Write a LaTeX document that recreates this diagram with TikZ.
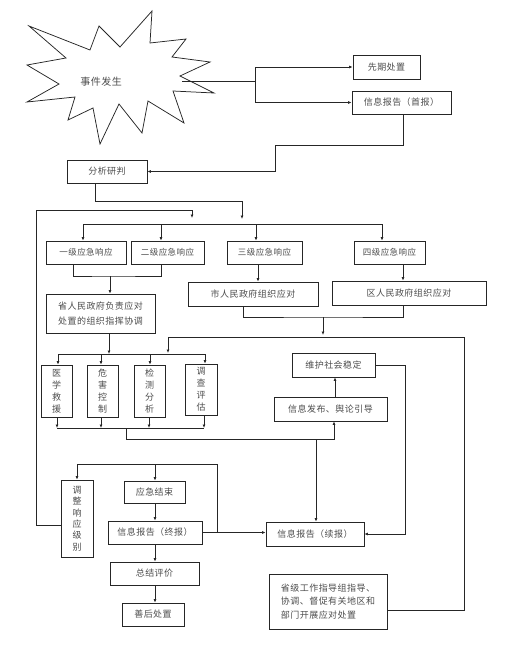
\documentclass[tikz,border=0pt]{standalone}
\usepackage{fontspec}
\newfontfamily\cjk[LetterSpace=5]{Noto Sans CJK SC}
\usetikzlibrary{positioning,arrows.meta}

\begin{document}
\begin{tikzpicture}[x=1pt,y=-1pt,
box/.style={draw=black!85,rectangle,inner sep=0pt,line width=0.8pt,text=black!70,
  font=\cjk\fontsize{9}{12}\selectfont,align=center},
lvbox/.style={box,minimum height=23,font=\cjk\fontsize{8.5}{12}\selectfont},
vbox/.style={box,minimum width=31,minimum height=52},
conn/.style={draw=black!85,line width=0.75pt},
arr/.style={-{Latex[length=3.5pt,width=3pt]}}]
\useasboundingbox (0,0) rectangle (514,652);

% event star
\draw[conn] (29,26) -- (90,50) -- (99,26) -- (120,47) -- (152,11) -- (150,43)
  -- (186,39) -- (172,57) -- (210,62) -- (180,76) -- (214,93) -- (173,91)
  -- (184,123) -- (148,101) -- (142,133) -- (119,104) -- (100,144) -- (93,108)
  -- (68,120) -- (75,97) -- (27,102) -- (59,84) -- (27,65) -- (66,58) -- cycle;
\node (star) [text=black!70,font=\cjk\fontsize{10}{12}\selectfont] at (101,82) {事件发生};

% boxes
\node (xqcz) [box,minimum width=67,minimum height=24] at (386.5,67) {先期处置};
\node (sb) [box,minimum width=99,minimum height=23] at (401.5,102.5) {信息报告（首报）};
\node (fxyp) [box,minimum width=80,minimum height=23] at (107,171.5) {分析研判};
\node (lv1) [lvbox,minimum width=80] at (86,252.5) {一级应急响应};
\node (lv2) [lvbox,minimum width=73] at (167.5,252.5) {二级应急响应};
\node (lv3) [lvbox,minimum width=75] at (264.5,252.5) {三级应急响应};
\node (lv4) [lvbox,minimum width=71] at (389.5,252.5) {四级应急响应};
\node (sheng) [box,minimum width=109,minimum height=39,
    font=\cjk\fontsize{9}{15}\selectfont] at (100.5,313.5) {省人民政府负责应对\\处置的组织指挥协调};
\node (shi) [box,minimum width=130,minimum height=24] at (253,294) {市人民政府组织应对};
\node (qu) [box,minimum width=154,minimum height=24] at (409,293) {区人民政府组织应对};
\node (yxjy) [vbox] at (56.5,391) {医\\学\\救\\援};
\node (whkz) [vbox] at (102.5,391) {危\\害\\控\\制};
\node (jcfx) [vbox] at (149.5,391) {检\\测\\分\\析};
\node (dcpg) [vbox,minimum width=32,minimum height=51] at (201,389.5) {调\\查\\评\\估};
\node (whwd) [box,minimum width=83,minimum height=24] at (333.5,365) {维护社会稳定};
\node (xxfb) [box,minimum width=113,minimum height=24] at (330.5,409) {信息发布、舆论引导};
\node (tzjb) [vbox,minimum width=32,minimum height=77,
    font=\cjk\fontsize{9}{11.3}\selectfont] at (77,518.5) {调\\整\\响\\应\\级\\别};
\node (yjjs) [box,minimum width=61,minimum height=22] at (154.5,492) {应急结束};
\node (zb) [box,minimum width=94,minimum height=23] at (155,532.5) {信息报告（终报）};
\node (xb) [box,minimum width=98,minimum height=24] at (315,534) {信息报告（续报）};
\node (zjpj) [box,minimum width=89,minimum height=23] at (154.5,573.5) {总结评价};
\node (shcz) [box,minimum width=62,minimum height=23] at (153,614.5) {善后处置};
\node (sjgz) [box,minimum width=118,minimum height=55,align=left,
    font=\cjk\fontsize{9}{13.5}\selectfont] at (328,601.5)
    {省级工作指导组指导、\\协调、督促有关地区和\\部门开展应对处置};

% star to first actions
\coordinate (s0) at (182,81);
\coordinate (s1) at (255,81);
\draw[conn] (s0) -- (s1);
\draw[conn,arr] (s1) |- (xqcz.west);
\draw[conn,arr] (s1) |- (sb.west);

% first report to analysis
\coordinate (b1) at (275,145);
\draw[conn,arr] ([xshift=1.5pt]sb.south) |- (b1) |- (fxyp.east);

% analysis to response levels
\coordinate (b2) at (242,201);
\coordinate (b3) at (242,219);
\draw[conn,arr] ([xshift=-12pt]fxyp.south) |- (b2) -- (b3);
\coordinate (c1) at (83,224);
\coordinate (c2) at (382,224);
\draw[conn] (c1) -- (c2);
\foreach \x/\n in {83/lv1,161/lv2,256/lv3,382/lv4}
  \draw[conn,arr] (\x,0 |- c1) -- (\x,0 |- \n.north);

% levels to organisers
\coordinate (d1) at (110,276);
\draw[conn] (73,0 |- lv1.south) |- (d1) -| (161,0 |- lv2.south);
\draw[conn,arr] (d1) -- (d1 |- sheng.north);
\draw[conn,arr] (258,0 |- lv3.south) -- (258,0 |- shi.north);
\draw[conn,arr] (403,0 |- lv4.south) -- (403,0 |- qu.north);
\coordinate (e1) at (323,317);
\coordinate (e2) at (323,335);
\draw[conn] (243,0 |- shi.south) |- (e1) -| (403,0 |- qu.south);
\draw[conn,arr] (e1) -- (e2);

% to the tasks and the provincial group
\coordinate (f1) at (168,337);
\coordinate (f2) at (464,337);
\coordinate (f3) at (168,353);
\draw[conn] (f1) -- (f2) |- ([yshift=-8.5pt]sjgz.east);
\draw[conn,arr] (f1) -- (f3);
\coordinate (g1) at (58,354);
\coordinate (g2) at (205,354);
\draw[conn] (g1) -- (g2);
\draw[conn,arr] (109,0 |- sheng.south) -- (109,0 |- g1);
\foreach \x/\n in {58/yxjy,101/whkz,150/jcfx,205/dcpg}
  \draw[conn,arr] (\x,0 |- g1) -- (\x,0 |- \n.north);

% tasks to information
\coordinate (h1) at (57,428);
\coordinate (h2) at (204,428);
\draw[conn] (h1) -- (h2);
\foreach \x/\n in {57/yxjy,101/whkz,149/jcfx,204/dcpg}
  \draw[conn,arr] (\x,0 |- \n.south) -- (\x,0 |- h1);
\coordinate (h3) at (126,428);
\coordinate (h4) at (126,439);
\coordinate (h5) at (316,439);
\draw[conn,arr] (h3) -- (h4) -| (334,0 |- xxfb.south);
\draw[conn,arr] (h5) -- (h5 |- xb.north);
\draw[conn,arr] (335,0 |- xxfb.north) -- (335,0 |- whwd.south);
\draw[conn,arr] (whwd.east) -| (405,0 |- xb.east) -- (xb.east);

% ending
\draw[conn,arr] (zb.east) -- (zb.east -| xb.west);
\coordinate (q0) at (217,532.5);
\coordinate (q1) at (217,464);
\draw[conn,arr] (q0) -- (q1) -| (tzjb.north);
\draw[conn,arr] (155,0 |- q1) -- (155,0 |- yjjs.north);
\coordinate (r1) at (36,210);
\coordinate (r2) at (192,210);
\coordinate (r3) at (192,218);
\draw[conn,arr] ([yshift=-6.5pt]tzjb.west) -| (r1) -- (r2) -- (r3);
\draw[conn,arr] (155,0 |- yjjs.south) -- (155,0 |- zb.north);
\draw[conn,arr] (155,0 |- zb.south) -- (155,0 |- zjpj.north);
\draw[conn,arr] (155,0 |- zjpj.south) -- (155,0 |- shcz.north);
\end{tikzpicture}
\end{document}
